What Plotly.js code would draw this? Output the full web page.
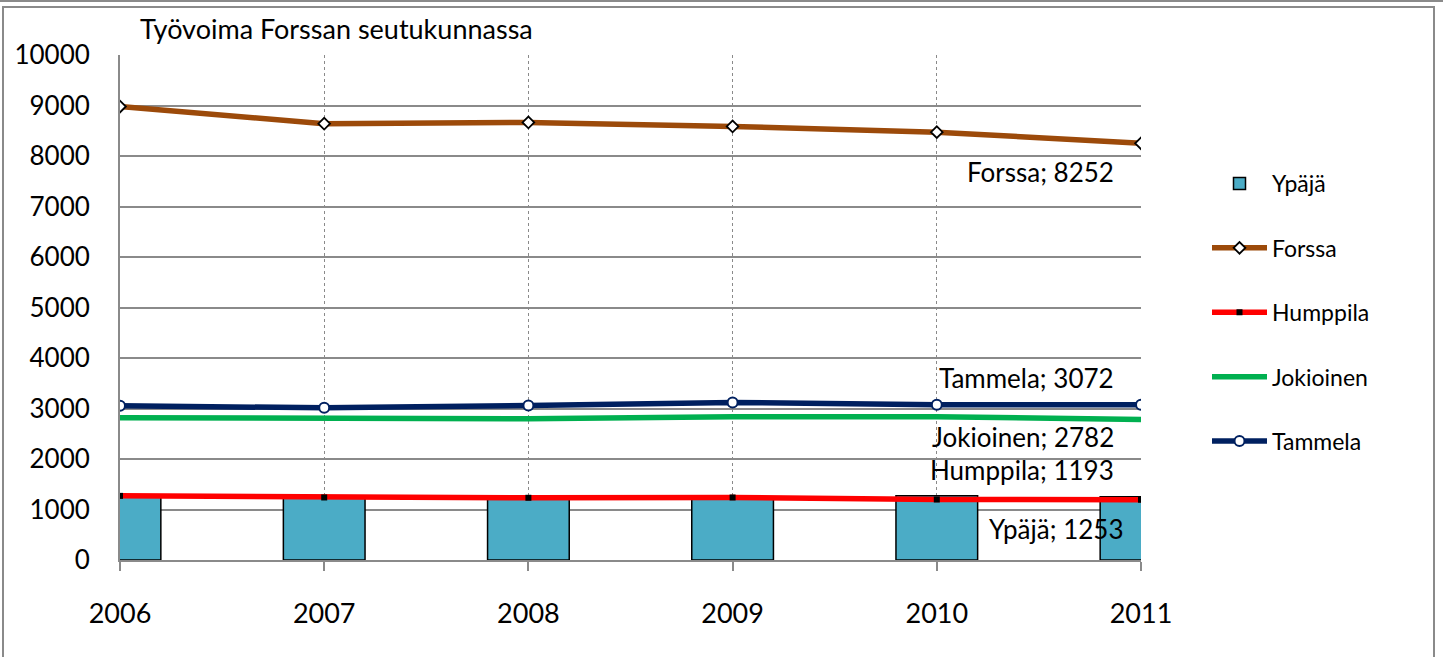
<!DOCTYPE html>
<html>
<head>
<meta charset="utf-8">
<script src="https://cdn.plot.ly/plotly-3.0.1.min.js"></script>
<style>html,body{margin:0;padding:0;background:#fff;}#chart{width:1443px;height:657px;}</style>
</head>
<body>
<div id="chart"></div>
<script>
const years = [2006, 2007, 2008, 2009, 2010, 2011];
const ypaja = [1250, 1230, 1225, 1230, 1272, 1253];
const forssa = [8980, 8640, 8665, 8585, 8472, 8252];
const humppila = [1270, 1238, 1232, 1238, 1198, 1193];
const jokioinen = [2816, 2796, 2798, 2836, 2838, 2782];
const tammela = [3053, 3014, 3059, 3119, 3073, 3072];
const titleText = "Työvoima Forssan seutukunnassa";

const FONT = "Lato, 'Open Sans', sans-serif";

// plot area in pixels (for paper conversions)
const L = 120, R = 1141, T = 55, B = 560;
const px = v => (v - L) / (R - L);
const py = v => (B - v) / (B - T);

const traces = [
  {type:'bar', name:'Ypäjä', x:years, y:ypaja, width:0.4, legendgroup:'a',
   marker:{color:'#4BACC6', line:{color:'#000', width:1.5}}},
  {type:'scatter', mode:'lines+markers', name:'Forssa', x:years, y:forssa, legendgroup:'b',
   line:{color:'#9C4A0A', width:5.5},
   marker:{symbol:'diamond', size:9, color:'#fff', line:{color:'#000', width:1.8}}},
  {type:'scatter', mode:'lines+markers', name:'Humppila', x:years, y:humppila, legendgroup:'c',
   line:{color:'#FF0000', width:5.5},
   marker:{symbol:'square', size:6, color:'#000', line:{color:'#000', width:0}}},
  {type:'scatter', mode:'lines', name:'Jokioinen', x:years, y:jokioinen, legendgroup:'d',
   line:{color:'#00B050', width:5.5}},
  {type:'scatter', mode:'lines+markers', name:'Tammela', x:years, y:tammela, legendgroup:'e',
   line:{color:'#002060', width:5.5},
   marker:{symbol:'circle', size:10, color:'#fff', line:{color:'#002060', width:2}}}
];

const last = years.length - 1;
const lab = (name, arr, xs, ys) => ({
  x: years[last], y: arr[last], xref:'x', yref:'y', text: name + '; ' + arr[last],
  showarrow:false, xanchor:'right', yanchor:'middle', xshift:xs, yshift:ys,
  borderpad:0, font:{family:FONT, size:26, color:'#000'}
});

const layout = {
  width:1443, height:657,
  margin:{l:L, r:1443-R, t:T, b:657-B, pad:0},
  paper_bgcolor:'#fff', plot_bgcolor:'#fff',
  font:{family:FONT, color:'#000'},
  title:{text:titleText, x:px(140), xref:'paper', xanchor:'left',
         y:1-30/657, yref:'container', yanchor:'middle',
         font:{family:FONT, size:27, color:'#000'}},
  showlegend:true,
  legend:{x:px(1207), y:py(162), xanchor:'left', yanchor:'top',
          traceorder:'grouped', tracegroupgap:31.5, itemwidth:55,
          font:{family:FONT, size:23, color:'#000'}, bgcolor:'rgba(0,0,0,0)'},
  bargap:0,
  xaxis:{range:[2006, 2011], tickvals:years, ticktext:years.map(String),
         showgrid:true, gridcolor:'#8a8a8a', griddash:'dot', gridwidth:1.2,
         showline:true, linecolor:'#8a8a8a', linewidth:2,
         ticks:'outside', ticklen:9, tickcolor:'#8a8a8a', tickwidth:2,
         ticklabelstandoff:20, zeroline:false, fixedrange:true,
         tickfont:{family:FONT, size:27, color:'#000'}},
  yaxis:{range:[0, 10000], dtick:1000, tick0:0, tickformat:'d',
         showgrid:true, gridcolor:'#8a8a8a', gridwidth:2,
         showline:true, linecolor:'#8a8a8a', linewidth:2,
         ticks:'', ticklabelstandoff:23, zeroline:false, fixedrange:true,
         tickfont:{family:FONT, size:26, color:'#000'}},
  annotations:[
    lab('Forssa', forssa, -26, -29),
    lab('Tammela', tammela, -26, 27),
    lab('Jokioinen', jokioinen, -26, -17),
    lab('Humppila', humppila, -26, 30),
    lab('Ypäjä', ypaja, -17, -32)
  ],
  shapes:[
    {type:'rect', xref:'paper', yref:'paper', x0:px(3), x1:px(1434), y0:py(662), y1:py(7),
     line:{color:'#8a8a8a', width:2}, fillcolor:'rgba(0,0,0,0)', layer:'above'},
    {type:'line', xref:'paper', yref:'paper', x0:px(0), x1:px(1443), y0:py(1), y1:py(1),
     line:{color:'#8a8a8a', width:2}, layer:'above'}
  ]
};

Plotly.newPlot('chart', traces, layout, {displayModeBar:false, staticPlot:true});
</script>
</body>
</html>
